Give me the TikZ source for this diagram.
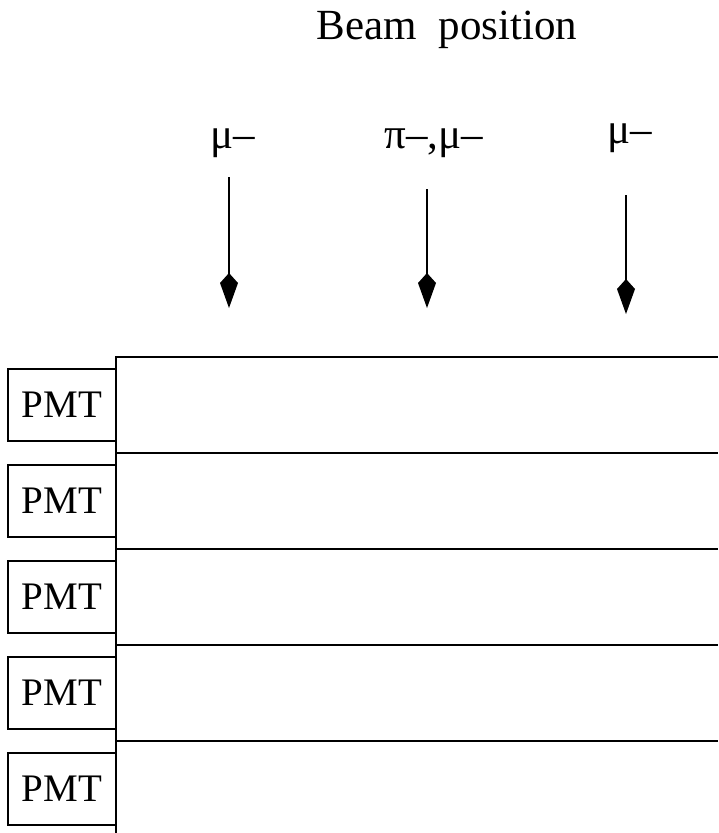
\documentclass[tikz,border=0pt]{standalone}
\usepackage{fontspec}
\setmainfont{Liberation Serif}
\usetikzlibrary{arrows.meta,positioning}
\tikzset{beam/.style={line width=1.6pt,-{Kite[length=35pt,width=18pt,inset=10pt]}}}

\begin{document}
\begin{tikzpicture}[x=1pt,y=-1pt]%
        \useasboundingbox (0,0) rectangle (718,833);%%
        \tikzstyle{every node}=[font=\fontsize{43}{48}\selectfont] %%
        \node[anchor=base] (title) at (447,39) {Beam\ \ position}; %%
        \node[anchor=base] (mu1) at (233,148) {μ–}; %%
        \node[anchor=base] (pimu) at (434,148) {π–,μ–}; %%
        \node[anchor=base] (mu3) at (630,143) {μ–}; %%
        \coordinate (b1) at (229,177); \coordinate (t1) at (229,308); %%
        \coordinate (b2) at (427,189); \coordinate (t2) at (427,308); %%
        \coordinate (b3) at (626,195); \coordinate (t3) at (626,314); %%
        \draw[beam] (b1)--(t1); %%
        \draw[beam] (b2)--(t2); %%
        \draw[beam] (b3)--(t3); %%
        % scintillator slabs
        \begin{scope}[line width=2pt]
        \draw (718,357)--(116,357)--(116,833); %%
        \draw (116,453)--(718,453); %%
        \draw (116,549)--(718,549); %%
        \draw (116,645)--(718,645); %%
        \draw (116,741)--(718,741); %%
        \end{scope}
        \begin{scope}[shape=rectangle,inner sep=0pt]
        \tikzstyle{every node}=[draw,line width=2pt,minimum width=108pt,minimum height=72pt,font=\fontsize{39}{44}\selectfont] %%
        \node (pmt1) at (62,405) {PMT}; %%
        \node (pmt2) at (62,501) {PMT}; %%
        \node (pmt3) at (62,597) {PMT}; %%
        \node (pmt4) at (62,693) {PMT}; %%
        \node (pmt5) at (62,789) {PMT}; %%
        \end{scope}
        \end{tikzpicture}
\end{document}
